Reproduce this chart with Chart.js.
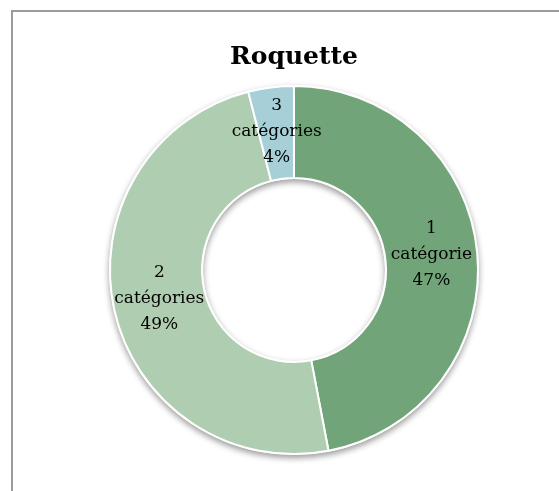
<!DOCTYPE html>
<html>
<head>
<meta charset="utf-8">
<script src="https://cdn.jsdelivr.net/npm/chart.js@4"></script>
<style>
  html, body { margin: 0; padding: 0; background: #fff; }
  body { width: 559px; height: 491px; position: relative; overflow: hidden; }
  #frame {
    position: absolute; left: 11px; top: 10px; width: 548px; height: 481px;
    border-top: 2px solid #9b9b9b; border-left: 2px solid #9b9b9b;
    box-sizing: border-box;
  }
  #wrap { position: absolute; left: 13px; top: 12px; width: 546px; height: 479px; }
</style>
</head>
<body>
<div id="frame"></div>
<div id="wrap"><canvas id="c"></canvas></div>
<script>
// Roquette — répartition par nombre de catégories
const categories = ['1 catégorie', '2 catégories', '3 catégories'];
const labelLines = [['1', 'catégorie'], ['2', 'catégories'], ['3', 'catégories']];
const percents = [47, 49, 4];
const colors = ['#71a479', '#afcdb0', '#a6cfd8'];

const SERIF = '"DejaVu Serif", "Liberation Serif", serif';

// soft drop shadow under the ring (falls outside and into the hole)
const ringShadow = {
  id: 'ringShadow',
  beforeDatasetsDraw(chart) {
    const arc = chart.getDatasetMeta(0).data[0];
    if (!arc) return;
    const { x, y, innerRadius, outerRadius } = arc.getProps(['x', 'y', 'innerRadius', 'outerRadius'], true);
    const ctx = chart.ctx;
    ctx.save();
    ctx.shadowColor = 'rgba(0,0,0,0.4)';
    ctx.shadowBlur = 6;
    ctx.shadowOffsetY = 3;
    ctx.beginPath();
    ctx.arc(x, y, outerRadius + 1, 0, Math.PI * 2);
    ctx.arc(x, y, innerRadius - 1, 0, Math.PI * 2, true);
    ctx.fillStyle = '#fff';
    ctx.fill();
    ctx.restore();
  }
};

const sliceLabels = {
  id: 'sliceLabels',
  afterDatasetsDraw(chart) {
    const ctx = chart.ctx;
    const meta = chart.getDatasetMeta(0);
    ctx.save();
    ctx.font = '17px ' + SERIF;
    ctx.fillStyle = '#000';
    ctx.textAlign = 'center';
    ctx.textBaseline = 'middle';
    meta.data.forEach((arc, i) => {
      const p = arc.tooltipPosition();
      const lines = labelLines[i].concat(percents[i] + '%');
      const lh = 26;
      lines.forEach((t, k) => {
        ctx.fillText(t, p.x, p.y - 2 + (k - (lines.length - 1) / 2) * lh);
      });
    });
    ctx.restore();
  }
};

new Chart(document.getElementById('c'), {
  type: 'doughnut',
  data: {
    labels: categories,
    datasets: [{
      data: percents,
      backgroundColor: colors,
      borderColor: '#ffffff',
      borderWidth: 2
    }]
  },
  options: {
    responsive: true,
    maintainAspectRatio: false,
    animation: false,
    cutout: '50%',
    layout: { padding: { top: 10, bottom: 36, left: 96, right: 80 } },
    plugins: {
      legend: { display: false },
      tooltip: { enabled: false },
      title: {
        display: true,
        text: 'Roquette',
        color: '#000',
        font: { family: SERIF, size: 25, weight: 'bold', lineHeight: 1.2 },
        padding: { top: 20, bottom: 13 }
      }
    }
  },
  plugins: [ringShadow, sliceLabels]
});
</script>
</body>
</html>
